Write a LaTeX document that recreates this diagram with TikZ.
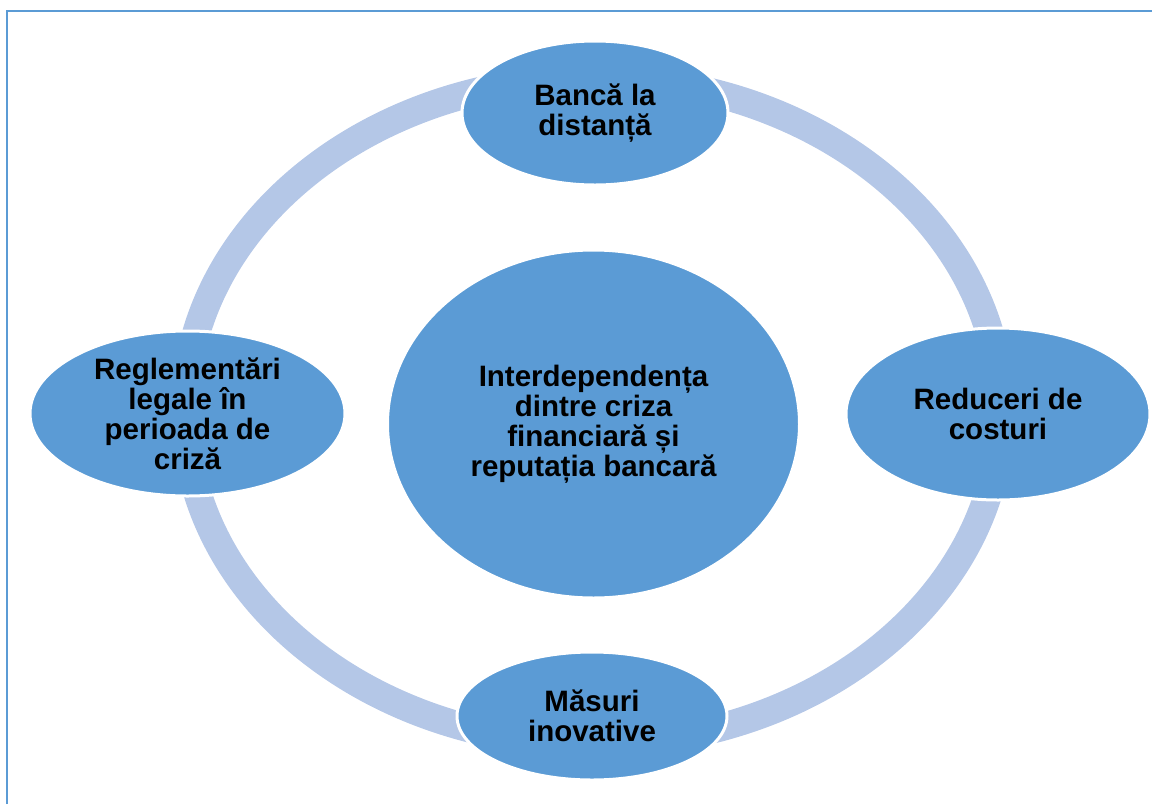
\documentclass[tikz,border=0pt]{standalone}
\usepackage{fontspec}
\setmainfont{Liberation Sans}
\usetikzlibrary{shapes.geometric}
\definecolor{nodeblue}{HTML}{5B9BD5}
\definecolor{ringblue}{HTML}{B4C7E7}
\definecolor{frameblue}{HTML}{5B9BD5}
\begin{document}
\begin{tikzpicture}[x=1pt,y=-1pt,
  bubble/.style={ellipse, fill=nodeblue, draw=white, line width=3pt,
    inner xsep=0pt, inner ysep=-8pt, align=center, text=black,
    font=\fontsize{29.5}{30}\selectfont\bfseries},
  ring/.style={draw=ringblue, line width=28pt},
  frameline/.style={draw=frameblue, line width=2.5pt}
  ]
\useasboundingbox (0,0) rectangle (1152,804);

% partial page frame along the left and top edges
\coordinate (fbl) at (7,804);
\coordinate (ftl) at (7,11);
\coordinate (ftr) at (1152,11);
\draw[frameline] (fbl) -- (ftl) -- (ftr);

% the cycle ring behind the four outer ellipses
\coordinate (ringc) at (593,411);
\draw[ring] (ringc) ellipse [x radius=408, y radius=333];

% central topic
\node[bubble, minimum width=412pt, minimum height=348pt] (core) at (593.5,424)
  {Interdependența\\dintre criza\\financiară și\\reputația bancară};

% outer topics on the ring
\node[bubble, minimum width=266pt, minimum height=144pt] (remote) at (595,113)
  {Bancă la\\distanță};
\node[bubble, minimum width=304pt, minimum height=172pt] (costs) at (998,414)
  {Reduceri de\\costuri};
\node[bubble, minimum width=270pt, minimum height=128pt] (innov) at (592,716)
  {Măsuri\\inovative};
\node[bubble, minimum width=315pt, minimum height=165pt] (rules) at (187.5,413.5)
  {Reglementări\\legale în\\perioada de\\criză};
\end{tikzpicture}
\end{document}
